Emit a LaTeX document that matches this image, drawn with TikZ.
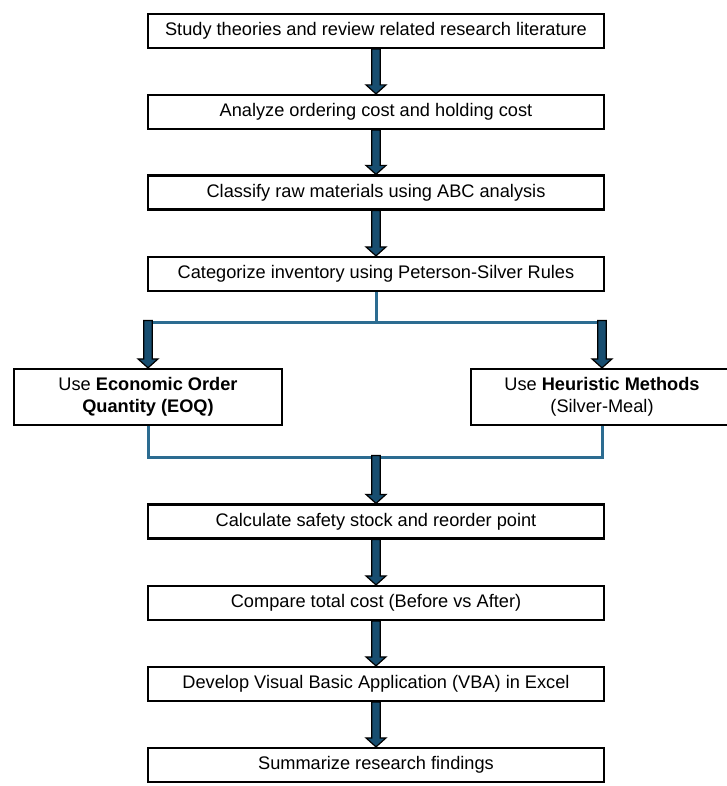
\documentclass[tikz,border=0pt]{standalone}
\usepackage{fontspec}
\setmainfont{Liberation Sans}
\usetikzlibrary{calc}
\definecolor{arrowfill}{RGB}{24,78,112}
\definecolor{linkblue}{RGB}{44,108,145}
\newcommand\blockarrow[2]{%
  \path[fill=arrowfill, draw=black, line width=1.2pt, line join=miter]
    let \p1=(#1), \p2=(#2) in
    (\x1-4.2pt,\y1) -- (\x1-4.2pt,\y2+9pt) -- (\x1-10pt,\y2+9pt) -- (\x1,\y2)
    -- (\x1+10pt,\y2+9pt) -- (\x1+4.2pt,\y2+9pt) -- (\x1+4.2pt,\y1) -- cycle;}
\begin{document}
\begin{tikzpicture}[x=1pt,y=-1pt,
  box/.style={draw=black, line width=2.2pt, fill=white, minimum width=456pt,
    minimum height=34pt, inner sep=0pt, align=center,
    font=\fontsize{18.2}{22}\selectfont},
  sidebox/.style={box, minimum height=56pt},
  link/.style={draw=linkblue, line width=3pt}]
\clip (0,0) rectangle (727,786);
\fill[white] (0,0) rectangle (727,786);
\node[box] (b1) at (376,31) {Study theories and review related research literature};
\node[box] (b2) at (376,112) {Analyze ordering cost and holding cost};
\node[box] (b3) at (376,192.5) {Classify raw materials using ABC analysis};
\node[box] (b4) at (376,274) {Categorize inventory using Peterson-Silver Rules};
\node[sidebox, minimum width=268pt] (L) at (148,397) {Use \textbf{Economic Order}\\\textbf{Quantity (EOQ)}};
\node[sidebox, minimum width=262pt] (R) at (602,397) {Use \textbf{Heuristic Methods}\\(Silver-Meal)};
\node[box] (b5) at (376,521.5) {Calculate safety stock and reorder point};
\node[box] (b6) at (376,603) {Compare total cost (Before vs After)};
\node[box] (b7) at (376,684) {Develop Visual Basic Application (VBA) in Excel};
\node[box] (b8) at (376,765) {Summarize research findings};
\coordinate (sp) at (376,322);
\coordinate (spL) at (148,322);
\coordinate (spR) at (602,322);
\coordinate (spLt) at (148,320.5);
\coordinate (spRt) at (602,320.5);
\coordinate (mg) at (376,457);
\coordinate (mgt) at (376,455.5);
\draw[link] (b4.south) -- (sp);
\draw[link] (spL) -- (spR);
\draw[link] (L.south) |- (mg) -| (R.south);
\blockarrow{b1.south}{b2.north}
\blockarrow{b2.south}{b3.north}
\blockarrow{b3.south}{b4.north}
\blockarrow{spLt}{L.north}
\blockarrow{spRt}{R.north}
\blockarrow{mgt}{b5.north}
\blockarrow{b5.south}{b6.north}
\blockarrow{b6.south}{b7.north}
\blockarrow{b7.south}{b8.north}
\end{tikzpicture}
\end{document}
